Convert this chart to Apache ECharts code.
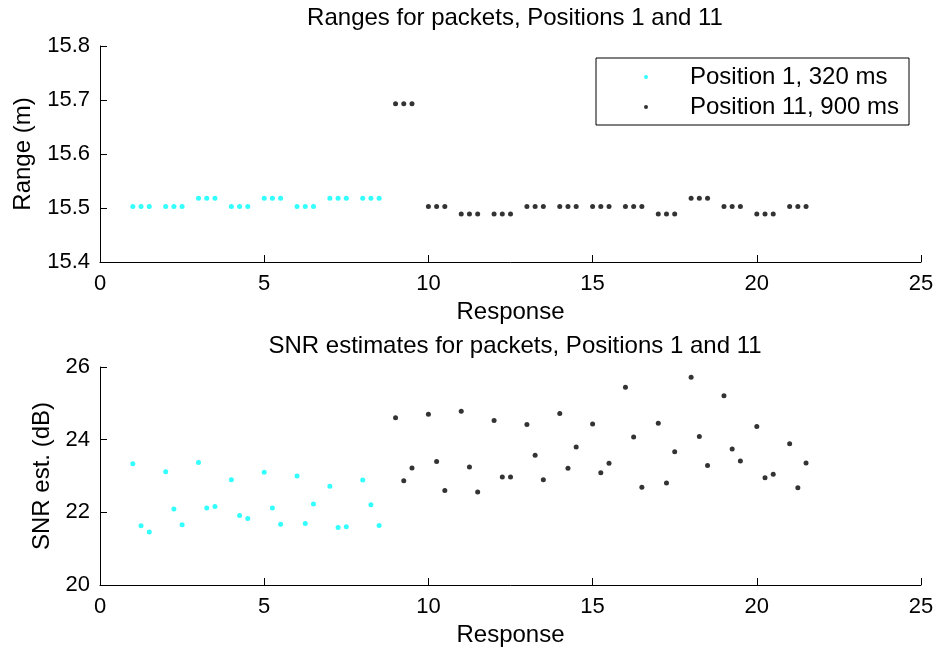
<!DOCTYPE html>
<html>
<head>
<meta charset="utf-8">
<script src="https://cdn.jsdelivr.net/npm/echarts@6/dist/echarts.min.js"></script>
<style>
    html, body { margin: 0; padding: 0; background: #fff; }
    #main { width: 937px; height: 650px; }
</style>
</head>
<body>
<div id="main"></div>
<script>
// response index of each packet (three packets per response)
var respA = [1, 1.25, 1.5, 2, 2.25, 2.5, 3, 3.25, 3.5, 4, 4.25, 4.5,
             5, 5.25, 5.5, 6, 6.25, 6.5, 7, 7.25, 7.5, 8, 8.25, 8.5]
var respB = [9, 9.25, 9.5, 10, 10.25, 10.5, 11, 11.25, 11.5, 12, 12.25, 12.5,
             13, 13.25, 13.5, 14, 14.25, 14.5, 15, 15.25, 15.5, 16, 16.25, 16.5,
             17, 17.25, 17.5, 18, 18.25, 18.5, 19, 19.25, 19.5, 20, 20.25, 20.5,
             21, 21.25, 21.5]

// ranges (m)
var rangeA = [15.503, 15.503, 15.503, 15.503, 15.503, 15.503, 15.518, 15.518, 15.518,
              15.503, 15.503, 15.503, 15.518, 15.518, 15.518, 15.503, 15.503, 15.503,
              15.518, 15.518, 15.518, 15.518, 15.518, 15.518]
var rangeB = [15.693, 15.693, 15.693, 15.503, 15.503, 15.503, 15.489, 15.489, 15.489,
              15.489, 15.489, 15.489, 15.503, 15.503, 15.503, 15.503, 15.503, 15.503,
              15.503, 15.503, 15.503, 15.503, 15.503, 15.503, 15.489, 15.489, 15.489,
              15.518, 15.518, 15.518, 15.503, 15.503, 15.503, 15.489, 15.489, 15.489,
              15.503, 15.503, 15.503]

// SNR estimates (dB)
var snrA = [23.34, 21.63, 21.46, 23.12, 22.09, 21.66, 23.37, 22.12, 22.16,
            22.90, 21.91, 21.83, 23.10, 22.12, 21.67, 23.00, 21.69, 22.23,
            22.72, 21.58, 21.60, 22.89, 22.21, 21.64]
var snrB = [24.60, 22.87, 23.22, 24.70, 23.40, 22.60, 24.78, 23.25, 22.56,
            24.53, 22.97, 22.97, 24.42, 23.57, 22.90, 24.72, 23.21, 23.80,
            24.43, 23.09, 23.35, 25.44, 24.07, 22.69, 24.45, 22.81, 23.67,
            25.72, 24.09, 23.29, 25.21, 23.74, 23.41, 24.36, 22.95, 23.05,
            23.89, 22.68, 23.36]

var nameA = 'Position 1, 320 ms'
var nameB = 'Position 11, 900 ms'
var titles = ['Ranges for packets, Positions 1 and 11', 'SNR estimates for packets, Positions 1 and 11']
var xTicks = [0, 25, 5]
var rangeTicks = [15.4, 15.8, 0.1]
var snrTicks = [20, 26, 2]

var font = "'Liberation Sans', Arial, sans-serif"
var fs = 24      // titles, axis names, legend
var tickFs = 22  // tick labels

function pairs(xs, ys){
    var out = []
    for (var i = 0; i < xs.length; i++) out.push([xs[i], ys[i]])
    return out
}

function xAxisOf(idx){
    return {
        type: 'value', gridIndex: idx,
        min: xTicks[0], max: xTicks[1], interval: xTicks[2],
        name: 'Response', nameLocation: 'middle', nameGap: 38,
        nameTextStyle: { color: '#000', fontSize: fs, fontFamily: font },
        axisLine: { lineStyle: { color: '#000', width: 1 } },
        axisTick: { inside: true, length: 7, lineStyle: { color: '#000' } },
        axisLabel: { color: '#000', fontSize: tickFs, fontFamily: font, margin: 11 },
        splitLine: { show: false }
    }
}

function yAxisOf(idx, ticks, name, gap, digits){
    return {
        type: 'value', gridIndex: idx,
        min: ticks[0], max: ticks[1], interval: ticks[2],
        name: name, nameLocation: 'middle', nameGap: gap,
        nameTextStyle: { color: '#000', fontSize: fs, fontFamily: font },
        axisLine: { show: true, lineStyle: { color: '#000', width: 1 } },
        axisTick: { show: true, inside: true, length: 7, lineStyle: { color: '#000' } },
        axisLabel: {
            color: '#000', fontSize: tickFs, fontFamily: font, margin: 10,
            formatter: function(v){ return v.toFixed(digits) }
        },
        splitLine: { show: false }
    }
}

function scatter(name, idx, xs, ys, color, size){
    return {
        name: name, type: 'scatter',
        xAxisIndex: idx, yAxisIndex: idx,
        data: pairs(xs, ys),
        symbol: 'circle', symbolSize: size,
        itemStyle: { color: color },
        silent: true
    }
}

var option = {
    backgroundColor: '#fff',
    animation: false,
    title: [{
        text: titles[0], left: 510, top: 1, textAlign: 'center',
        textStyle: { color: '#000', fontSize: fs, fontWeight: 'normal', fontFamily: font }
    },{
        text: titles[1], left: 510, top: 329, textAlign: 'center',
        textStyle: { color: '#000', fontSize: fs, fontWeight: 'normal', fontFamily: font }
    }],
    legend: {
        data: [{ name: nameA, icon: 'circle' }, { name: nameB, icon: 'circle' }],
        orient: 'vertical',
        left: 596, top: 58,
        padding: [7, 10, 6, 48],
        itemGap: 6,
        itemWidth: 4, itemHeight: 4,
        borderColor: '#000', borderWidth: 1,
        backgroundColor: '#fff',
        selectedMode: false,
        textStyle: { color: '#000', fontSize: fs, fontFamily: font, lineHeight: 24, padding: [0, 0, 0, 37] }
    },
    grid: [
        { left: 100, right: 16, top: 46, height: 216 },
        { left: 100, right: 16, top: 367, height: 218 }
    ],
    xAxis: [xAxisOf(0), xAxisOf(1)],
    yAxis: [
        yAxisOf(0, rangeTicks, 'Range (m)', 65, 1),
        yAxisOf(1, snrTicks, 'SNR est. (dB)', 45, 0)
    ],
    series: [
        scatter(nameA, 0, respA, rangeA, '#00ffff', 5),
        scatter(nameB, 0, respB, rangeB, '#000000', 5),
        scatter(nameA, 1, respA, snrA, '#00ffff', 5),
        scatter(nameB, 1, respB, snrB, '#000000', 5)
    ]
}

var myChart = echarts.init(document.getElementById('main'))
myChart.setOption(option)
</script>
</body>
</html>
